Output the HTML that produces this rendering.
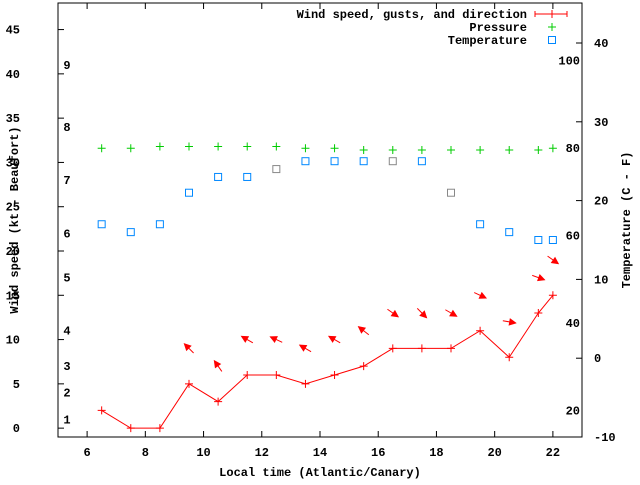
<!DOCTYPE html>
<html><head><meta charset="utf-8"><style>
body{margin:0;background:#fff}
svg text{font-family:"Liberation Mono","DejaVu Sans Mono",monospace;font-size:12px;font-weight:bold;fill:#000}
</style></head><body>
<svg id="c" width="640" height="480" xmlns="http://www.w3.org/2000/svg"></svg>
<script>
const hours=[6.5,7.5,8.5,9.5,10.5,11.5,12.5,13.5,14.5,15.5,16.5,17.5,18.5,19.5,20.5,21.5,22];
const windSpeed=[2,0,0,5,3,6,6,5,6,7,9,9,9,11,8,13,15];
const pressure=[31.6,31.6,31.8,31.8,31.8,31.8,31.8,31.6,31.6,31.4,31.4,31.4,31.4,31.4,31.4,31.4,31.6];
const temperature=[17,16,17,21,23,23,24,25,25,25,25,25,21,17,16,15,15];
const tempGray=[0,0,0,0,0,0,1,0,0,0,1,0,1,0,0,0,0];
const gustHours=[9.5,10.5,11.5,12.5,13.5,14.5,15.5,16.5,17.5,18.5,19.5,20.5,21.5,22];
const gusts=[9,7,10,10,9,10,11,13,13,13,15,12,17,19];
const windFrom=[135,145,120,115,120,120,128,305,315,300,295,280,290,305];
const xTicks=[6,8,10,12,14,16,18,20,22];
const yTicks=[0,5,10,15,20,25,30,35,40,45];
const y2Ticks=[-10,0,10,20,30,40];
const beaufort=[1,2,3,4,5,6,7,8,9];
const beaufortKt=[1,4,7,11,17,22,28,34,41];
const fahr=[20,40,60,80,100];

const L=58,R=582,T=3,B=437;
const X=h=>L+(h-5)/(23-5)*(R-L);
const Y=v=>B-(v+1)/49*(B-T);
const Y2=t=>B-(t+10)*7.88;
const svg=document.getElementById('c');
const NS='http://www.w3.org/2000/svg';
function mk(tag,attrs,parent){const e=document.createElementNS(NS,tag);for(const k in attrs)e.setAttribute(k,attrs[k]);(parent||svg).appendChild(e);return e;}
function txt(x,y,s,anchor){const e=mk('text',{x:x,y:y,'text-anchor':anchor||'start'});e.textContent=s;return e;}

// frame
let fr=mk('rect',{x:L,y:T,width:R-L,height:B-T,fill:'none',stroke:'#000','stroke-width':1});


xTicks.forEach(h=>{
  let t=mk('path',{d:`M${X(h)},${B}v-6M${X(h)},${T}v6`,stroke:'#000'});
  
  
  let l=txt(X(h),456,String(h),'middle');
  
  
});
yTicks.forEach(v=>{
  let t=mk('path',{d:`M${L},${Y(v)}h6`,stroke:'#000'});
  
  
  let l=txt(20,Y(v)+4,String(v),'end');
  
  
});
y2Ticks.forEach(v=>{
  let t=mk('path',{d:`M${R},${Y2(v)}h-6`,stroke:'#000'});
  
  
  let l=txt(594,Y2(v)+4,String(v),'start');
  
  
});
beaufort.forEach((b,i)=>{
  let l=txt(67,Y(beaufortKt[i])+4,String(b),'middle');
  
  
});
fahr.forEach(f=>{
  let l=txt(580,Y2((f-32)*5/9)+4,String(f),'end');
  
  
});
let xt=txt(320,476,'Local time (Atlantic/Canary)','middle');


let yt=txt(0,0,'Wind speed (kt - Beaufort)','middle');
yt.setAttribute('transform','translate(18,220) rotate(-90)');


let y2t=txt(0,0,'Temperature (C - F)','middle');
y2t.setAttribute('transform','translate(630,220) rotate(-90)');



function plus(x,y,c,name){let p=mk('path',{d:`M${x-4},${y}h8M${x},${y-4}v8`,stroke:c});}
function square(x,y,c,name){let p=mk('rect',{x:x-3.5,y:y-3.5,width:7,height:7,fill:'none',stroke:c});}

// wind line
let wl=mk('polyline',{points:hours.map((h,i)=>X(h)+','+Y(windSpeed[i])).join(' '),fill:'none',stroke:'#f00'});


hours.forEach((h,i)=>plus(X(h),Y(windSpeed[i]),'#f00','wind-speed-point'));
// pressure
hours.forEach((h,i)=>plus(X(h),Y(pressure[i]),'#0c0','pressure-point'));
// temperature
hours.forEach((h,i)=>square(X(h),Y2(temperature[i]),tempGray[i]?'#888':'#08f','temperature-point'));
// gust arrows
gustHours.forEach((h,i)=>{
  const d=(windFrom[i]+180)*Math.PI/180, len=13;
  const dx=Math.sin(d)*len, dy=-Math.cos(d)*len;
  const cx=X(h), cy=Y(gusts[i]);
  const x1=cx-dx/2,y1=cy-dy/2,x2=cx+dx/2,y2=cy+dy/2;
  const ux=dx/len,uy=dy/len,hl=6,hw=3;
  const bx=x2-ux*hl,by=y2-uy*hl;
  const g=mk('g',{});
  
  
  mk('line',{x1:x1,y1:y1,x2:x2,y2:y2,stroke:'#f00'},g);
  mk('polygon',{points:`${x2},${y2} ${bx-uy*hw},${by+ux*hw} ${bx+uy*hw},${by-ux*hw}`,fill:'#f00',stroke:'#f00'},g);
});
// legend
const lg=mk('g',{});


const e1=txt(527,18,'Wind speed, gusts, and direction','end');


mk('path',{d:'M535,14h32M535,11v6M567,11v6M552,10v8',stroke:'#f00'});
const e2=txt(527,31,'Pressure','end');


plus(552,27,'#0c0','legend-pressure-marker');
const e3=txt(527,44,'Temperature','end');


square(552,40,'#08f','legend-temperature-marker');
</script>
</body></html>
